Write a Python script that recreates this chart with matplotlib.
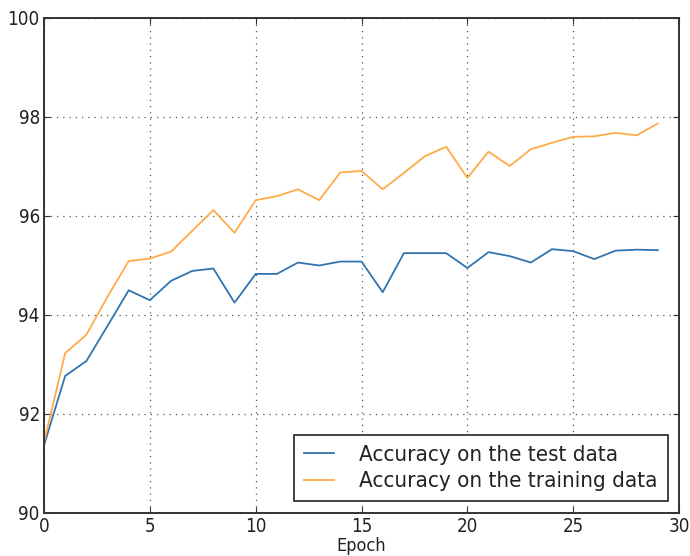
import numpy as np
import matplotlib
matplotlib.use('Agg')
import matplotlib.pyplot as plt

# Dados (acurácia por época)
epocas = list(range(30))
acc_teste = [91.36, 92.76, 93.06, 93.77, 94.49, 94.29, 94.68, 94.88, 94.93, 94.24,
             94.82, 94.82, 95.05, 94.99, 95.07, 95.07, 94.45, 95.24, 95.24, 95.24,
             94.94, 95.26, 95.18, 95.05, 95.32, 95.28, 95.12, 95.29, 95.31, 95.30]
acc_treino = [91.42, 93.22, 93.59, 94.36, 95.08, 95.13, 95.27, 95.69, 96.11, 95.65,
              96.31, 96.39, 96.53, 96.31, 96.87, 96.90, 96.53, 96.86, 97.20, 97.39,
              96.76, 97.29, 97.00, 97.34, 97.47, 97.59, 97.60, 97.67, 97.62, 97.86]
xticks = [0, 5, 10, 15, 20, 25, 30]
yticks = [90, 92, 94, 96, 98, 100]

plt.rcParams['font.family'] = ['DejaVu Sans']
plt.rcParams['font.stretch'] = 'condensed'

fig = plt.figure(figsize=(6.9, 5.56), dpi=100)
ax = fig.add_axes([0.0638, 0.0782, 0.9203, 0.8903])

ax.plot(epocas, acc_teste, color='#3274b0', lw=1.3, label='Accuracy on the test data')
ax.plot(epocas, acc_treino, color='#ffab48', lw=1.3, label='Accuracy on the training data')

ax.set_xlim(0, 30)
ax.set_ylim(90, 100)
ax.set_xticks(xticks)
ax.set_yticks(yticks)
ax.tick_params(direction='in', length=4, color='#333333', labelsize=13.5,
               labelcolor='#222222', pad=3)
ax.tick_params(top=True, right=True)
ax.grid(True, color='#555555', linestyle=(0, (1, 4)), lw=0.9)

for s in ax.spines.values():
    s.set_color('#333333')
    s.set_linewidth(1.4)

ax.set_xlabel('Epoch', fontsize=13, color='#222222', labelpad=1)

# Legenda no canto inferior direito
leg = ax.legend(loc='lower right', fontsize=16, fancybox=False, framealpha=1,
                edgecolor='#222222', borderpad=0.45, handlelength=1.35,
                handletextpad=1.15, labelspacing=0.3, borderaxespad=0.5)
leg.get_frame().set_linewidth(1.2)
for t in leg.get_texts():
    t.set_color('#222222')

fig.savefig('out.png', dpi=100)
